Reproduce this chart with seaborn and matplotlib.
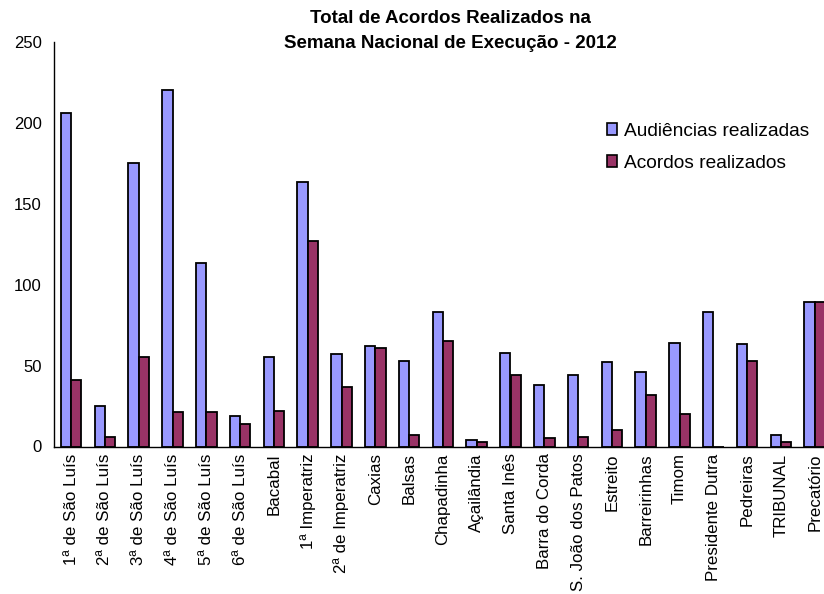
import numpy as np
import pandas as pd
import matplotlib
matplotlib.use("Agg")
import matplotlib.pyplot as plt
import seaborn as sns
from matplotlib.patches import Patch

categories = ["1ª de São Luís", "2ª de São Luís", "3ª de São Luís", "4ª de São Luís",
              "5ª de São Luís", "6ª de São Luís", "Bacabal", "1ª Imperatriz",
              "2ª de Imperatriz", "Caxias", "Balsas", "Chapadinha", "Açailândia",
              "Santa Inês", "Barra do Corda", "S. João dos Patos", "Estreito",
              "Barreirinhas", "Timom", "Presidente Dutra", "Pedreiras", "TRIBUNAL",
              "Precatório"]
audiencias = [206, 25, 175, 220, 113, 19, 55, 163, 57, 62, 53, 83, 4, 58, 38, 44,
              52, 46, 64, 83, 63, 7, 89]
acordos = [41, 6, 55, 21, 21, 14, 22, 127, 37, 61, 7, 65, 3, 44, 5, 6,
           10, 32, 20, 0, 53, 3, 89]
series_names = ["Audiências realizadas", "Acordos realizados"]
colors = ["#9999FF", "#993366"]

df = pd.DataFrame({
    "local": categories * 2,
    "valor": audiencias + acordos,
    "serie": [series_names[0]] * len(categories) + [series_names[1]] * len(categories),
})

sns.set_style("white")
plt.rcParams['font.family'] = ['Liberation Sans', 'DejaVu Sans']
plt.rcParams['text.color'] = 'black'
plt.rcParams['xtick.color'] = 'black'
plt.rcParams['ytick.color'] = 'black'

W, H = 824, 594
fig = plt.figure(figsize=(W / 100, H / 100), dpi=100)
n = len(categories)
left, step, top, bottom = 54.2, 33.8, 41.5, 446.5
right = left + step * n
ax = fig.add_axes([left / W, 1 - bottom / H, (right - left) / W, (bottom - top) / H])

sns.barplot(data=df, x="local", y="valor", hue="serie", order=categories,
            hue_order=series_names, palette=colors,
            width=0.61, gap=0, edgecolor="black", linewidth=1.3,
            saturation=1, ax=ax, legend=False)

ax.set_ylim(0, 250)
ax.set_yticks(range(0, 251, 50))
ax.set_xlim(-0.5, n - 0.5)
ax.set_xlabel("")
ax.set_ylabel("")
ax.tick_params(axis="y", length=0, pad=9, labelsize=12)
ax.tick_params(axis="x", length=0, pad=5, labelsize=12.2)
plt.setp(ax.get_xticklabels(), rotation=90)
for s in ["top", "right"]:
    ax.spines[s].set_visible(False)
for s in ["left", "bottom"]:
    ax.spines[s].set_color("black")
    ax.spines[s].set_linewidth(1.0)
    ax.spines[s].set_zorder(5)

handles = [Patch(facecolor=c, edgecolor="black", linewidth=1.2) for c in colors]
ax.legend(handles, series_names, loc="upper left",
          bbox_to_anchor=(599 / W, 1 - 115 / H), bbox_transform=fig.transFigure,
          frameon=False, fontsize=13.8, handlelength=0.55, handleheight=0.55,
          handletextpad=0.35, labelspacing=0.78, borderaxespad=0)

fig.text(450 / W, 1 - 31 / H, "Total de Acordos Realizados na\nSemana Nacional de Execução - 2012",
         ha="center", va="center", fontsize=13.5, fontweight="bold", linespacing=1.6)

fig.savefig("out.png", dpi=100)
